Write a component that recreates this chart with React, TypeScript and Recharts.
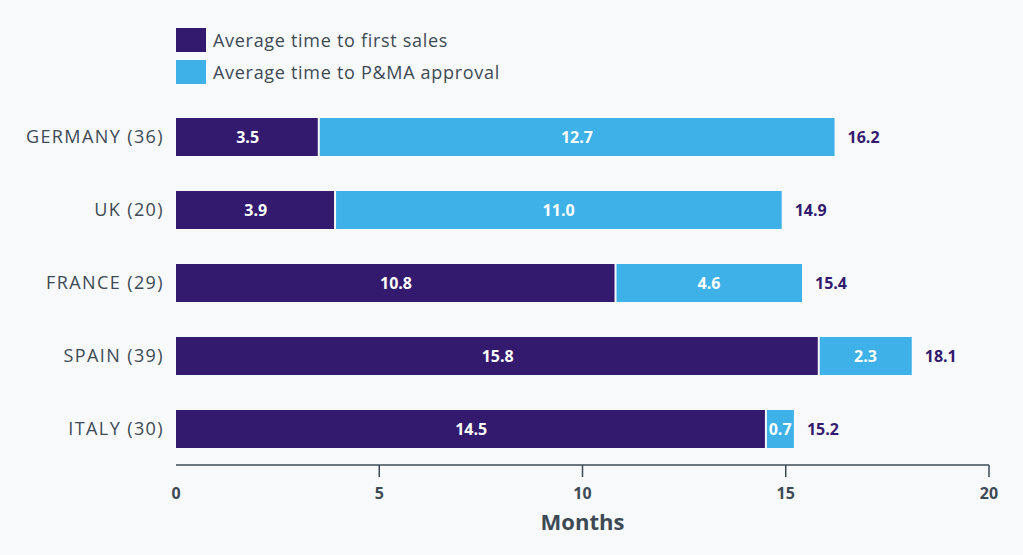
import React from 'react';
import { BarChart, Bar, XAxis, YAxis, LabelList } from 'recharts';

const countries = ['GERMANY (36)', 'UK (20)', 'FRANCE (29)', 'SPAIN (39)', 'ITALY (30)'];
const firstSales = [3.5, 3.9, 10.8, 15.8, 14.5];
const approval = [12.7, 11.0, 4.6, 2.3, 0.7];
const totals = [16.2, 14.9, 15.4, 18.1, 15.2];
const xTicks = [0, 5, 10, 15, 20];
const seriesNames = ['Average time to first sales', 'Average time to P&MA approval'];

const PURPLE = '#331a6e';
const BLUE = '#3eb1e8';
const TEXT = '#3d4a55';
const BG = '#f8f9fb';
const FONT = '"Open Sans", "Noto Sans", sans-serif';

const data = countries.map((c, i) => ({
  country: c,
  first: firstSales[i],
  approval: approval[i],
  total: totals[i],
}));

const XTick = (props: any) => {
  const { x, y, payload } = props;
  return (
    <g>
      {payload.value !== 0 && (
        <line x1={x} x2={x} y1={y - 12} y2={y} stroke={TEXT} strokeWidth={1.5} />
      )}
      <text x={x} y={y + 22} textAnchor="middle" fill={TEXT} fontFamily={FONT} fontWeight={700} fontSize={16}>
        {payload.value}
      </text>
    </g>
  );
};

const BlueShape = (props: any) => {
  const { x, y, width, height } = props;
  return <rect x={x + 1.5} y={y} width={Math.max(0, width - 1.5)} height={height} fill={BLUE} />;
};

const PurpleShape = (props: any) => {
  const { x, y, width, height } = props;
  return <rect x={x} y={y} width={Math.max(0, width - 0.5)} height={height} fill={PURPLE} />;
};

const TotalLabel = (props: any) => {
  const { x, y, width, height, index } = props;
  return (
    <text
      x={x + width + 13}
      y={y + height / 2 + 6}
      textAnchor="start"
      fill={PURPLE}
      fontFamily={FONT}
      fontWeight={700}
      fontSize={16}
    >
      {totals[index].toFixed(1)}
    </text>
  );
};

const InnerLabel = (props: any) => {
  const { x, y, width, height, value } = props;
  return (
    <text
      x={x + width / 2 + 0.5}
      y={y + height / 2 + 6}
      textAnchor="middle"
      fill="#ffffff"
      fontFamily={FONT}
      fontWeight={700}
      fontSize={16}
    >
      {Number(value).toFixed(1)}
    </text>
  );
};

const LegendBlock = () => (
  <div style={{ position: 'absolute', left: 176, top: 24, fontFamily: FONT }}>
    {seriesNames.map((n, i) => (
      <div key={n} style={{ display: 'flex', alignItems: 'center', height: 32 }}>
        <div style={{ width: 30, height: 24, background: i === 0 ? PURPLE : BLUE, marginRight: 7 }} />
        <span style={{ fontSize: 18, color: TEXT, letterSpacing: 0.7 }}>{n}</span>
      </div>
    ))}
  </div>
);

export default function App() {
  return (
    <div style={{ position: 'absolute', left: 0, top: 0, width: 1023, height: 555, background: BG }}>
      <LegendBlock />
      <div style={{ position: 'absolute', left: 0, top: 0 }}>
        <BarChart
          width={1023}
          height={555}
          data={data}
          layout="vertical"
          margin={{ top: 100, right: 34, bottom: 0, left: 16 }}
          barCategoryGap={35}
        >
          <XAxis
            type="number"
            domain={[0, 20]}
            ticks={xTicks}
            height={90}
            tickSize={12}
            tickMargin={0}
            tickLine={false}
            axisLine={{ stroke: TEXT, strokeWidth: 1.5 }}
            tick={<XTick />}
            interval={0}
            label={{
              value: 'Months',
              position: 'insideBottom',
              offset: 25,
              fill: TEXT,
              fontFamily: FONT,
              fontWeight: 700,
              fontSize: 22,
            }}
          />
          <YAxis
            type="category"
            dataKey="country"
            width={160}
            tickLine={false}
            axisLine={false}
            tickSize={0}
            tickMargin={12}
            tick={{ fill: TEXT, fontFamily: FONT, fontSize: 18, letterSpacing: 1.4 }}
          />
          <Bar dataKey="first" stackId="a" fill={PURPLE} barSize={38} shape={<PurpleShape />} isAnimationActive={false}>
            <LabelList dataKey="first" content={<InnerLabel />} />
          </Bar>
          <Bar dataKey="approval" stackId="a" fill={BLUE} barSize={38} shape={<BlueShape />} isAnimationActive={false}>
            <LabelList dataKey="approval" content={<InnerLabel />} />
            <LabelList dataKey="total" content={<TotalLabel />} />
          </Bar>
        </BarChart>
      </div>
    </div>
  );
}
